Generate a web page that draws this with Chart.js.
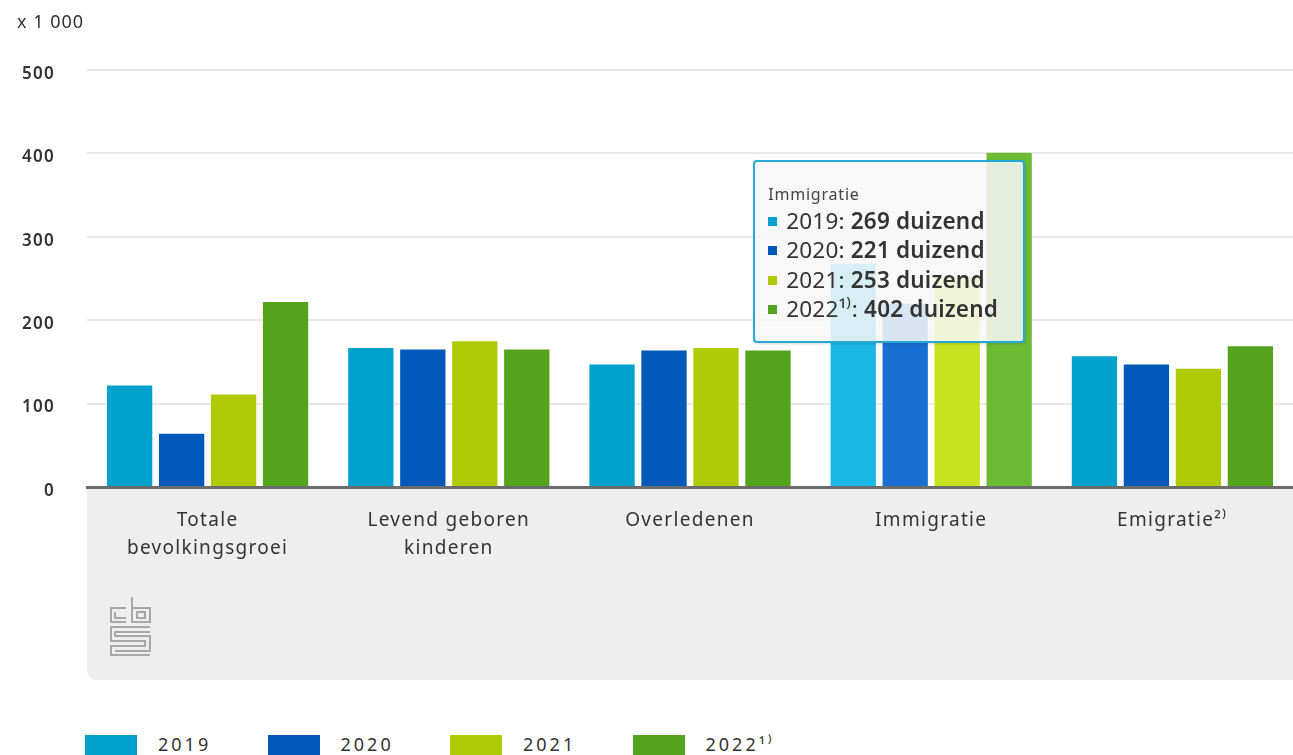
<!DOCTYPE html>
<html lang="nl">
<head>
<meta charset="utf-8">
<title>Bevolkingsgroei</title>
<script src="https://cdn.jsdelivr.net/npm/chart.js@4/dist/chart.umd.min.js"></script>
<style>
  body { margin: 0; background: #fff; font-family: "Noto Sans", sans-serif; color: #333; }
  #wrap { position: relative; width: 1293px; height: 755px; overflow: hidden; }
  #chart { position: absolute; left: 0; top: 0; }
  #unit { position: absolute; left: 17px; top: 9px; font-size: 18px; letter-spacing: 1px; color: #333; }
  #logo { position: absolute; left: 108px; top: 596px; }
  #legend { position: absolute; left: 85px; top: 735px; display: flex; }
  .lg-item { width: 182.5px; display: flex; align-items: flex-start; font-size: 18px; letter-spacing: 3px; color: #333; }
  .lg-box { width: 52px; height: 22px; margin-right: 21px; }
  .lg-text { line-height: 18px; margin-top: 0px; }
  #tip {
    position: absolute; display: none; box-sizing: border-box;
    background: rgba(247, 247, 247, 0.86); border: 2px solid #24a8d6; border-radius: 4px;
    box-shadow: 1px 1px 3px rgba(0,0,0,0.15);
    padding: 21px 14px 14px 13px; color: #333; white-space: nowrap;
  }
  #tip .t-title { font-size: 16px; letter-spacing: 0.8px; color: #444; margin-bottom: 1px; }
  #tip .t-row { font-size: 22.5px; line-height: 29.5px; letter-spacing: 0.2px; }
  #tip .t-sq { display: inline-block; width: 9px; height: 9px; margin-right: 9px; vertical-align: 3px; }
  #tip b { font-weight: 600; }
</style>
</head>
<body>
<div id="wrap">
  <canvas id="chart" width="1293" height="690"></canvas>
  <div id="unit">x 1 000</div>
  <svg id="logo" width="44" height="62" viewBox="0 0 44 62" fill="none" stroke="#a8a8a8" stroke-width="2">
    <polyline points="18,12 3,12 3,26 18,26" />
    <polyline points="7,16 7,22 18,22" />
    <polyline points="24,1 24,26 42,26 42,12 24,12" />
    <rect x="29" y="16" width="8" height="6" />
    <polyline points="42,31 3,31 3,45 37,45 37,50 3,50 3,59 42,59" />
    <polyline points="42,36 7,36 7,40 42,40 42,55 7,55" />
  </svg>
  <div id="tip"></div>
  <div id="legend"></div>
</div>
<script>
const categories = [
  ["Totale", "bevolkingsgroei"],
  ["Levend geboren", "kinderen"],
  "Overledenen",
  "Immigratie",
  "Emigratie\u00B2\u207E"
];
const years = ["2019", "2020", "2021", "2022\u00B9\u207E"];

// x 1 000
const values2019 = [123, 168, 148, 269, 158];
const values2020 = [65, 166, 165, 221, 148];
const values2021 = [112, 176, 168, 253, 143];
const values2022 = [223, 166, 165, 402, 170];

const yTicks = [0, 100, 200, 300, 400, 500];

const colors = ["#00a1cd", "#0058b8", "#afcb05", "#53a31d"];
const hoverColors = ["#1bb8e6", "#1a70d2", "#c7e21e", "#6cbb35"];

const activeIndex = 3; // Immigratie, tooltip open

const seriesValues = [values2019, values2020, values2021, values2022];

const CHART_LEFT = 87;
const CHART_BOTTOM = 487;
const CANVAS_H = 690;

// grey panel under the x axis + wider text like the original font
const panelPlugin = {
  id: "panel",
  beforeDraw(chart) {
    const { ctx, chartArea } = chart;
    ctx.letterSpacing = "1.3px";
    const x = chartArea.left, y = chartArea.bottom;
    const w = chart.width - x, h = 680 - y, r = 10;
    ctx.save();
    ctx.fillStyle = "#eeeeee";
    ctx.beginPath();
    ctx.moveTo(x, y);
    ctx.lineTo(x + w, y);
    ctx.lineTo(x + w, y + h);
    ctx.lineTo(x + r, y + h);
    ctx.quadraticCurveTo(x, y + h, x, y + h - r);
    ctx.closePath();
    ctx.fill();
    ctx.restore();
  }
};

function externalTooltip(context) {
  const tip = document.getElementById("tip");
  const tooltip = context.tooltip;
  if (tooltip.opacity === 0) {
    tip.style.display = "none";
    return;
  }
  let html = `<div class="t-title">${tooltip.title[0]}</div>`;
  tooltip.dataPoints.forEach((p) => {
    html += `<div class="t-row"><span class="t-sq" style="background:${colors[p.datasetIndex]}"></span>${p.dataset.label}: <b>${p.raw} duizend</b></div>`;
  });
  tip.innerHTML = html;
  const xs = context.chart.scales.x;
  const ys = context.chart.scales.y;
  const maxVal = Math.max(...tooltip.dataPoints.map((p) => p.raw));
  tip.style.display = "block";
  tip.style.left = (xs.getPixelForValue(tooltip.dataPoints[0].dataIndex) - 178) + "px";
  tip.style.top = (ys.getPixelForValue(maxVal) + 8) + "px";
  tip.style.width = "272px";
  tip.style.height = "183px";
}

const ctx = document.getElementById("chart").getContext("2d");
const chart = new Chart(ctx, {
  type: "bar",
  data: {
    labels: categories,
    datasets: years.map((y, i) => ({
      label: y,
      data: seriesValues[i],
      backgroundColor: colors[i],
      hoverBackgroundColor: hoverColors[i],
      borderColor: "rgba(255,255,255,0.5)",
      hoverBorderColor: "rgba(255,255,255,0.5)",
      borderWidth: 1,
      categoryPercentage: 0.862,
      barPercentage: 0.91
    }))
  },
  options: {
    responsive: false,
    animation: false,
    events: [],
    layout: { padding: { left: 0, right: 0, top: 70, bottom: 0 } },
    interaction: { mode: "index", intersect: false },
    scales: {
      x: {
        grid: { display: false, drawTicks: false },
        border: { display: true, color: "#6b6b6b", width: 3 },
        ticks: {
          padding: 19,
          color: "#333",
          font: { family: "Noto Sans", size: 19, lineHeight: 1.5 },
          maxRotation: 0,
          autoSkip: false
        },
        afterFit(scale) { scale.height = CANVAS_H - CHART_BOTTOM; }
      },
      y: {
        min: 0,
        max: 500,
        afterBuildTicks(scale) { scale.ticks = yTicks.map((v) => ({ value: v })); },
        grid: {
          drawTicks: false,
          lineWidth: 2,
          color: (c) => (c.tick && c.tick.value === 0 ? "rgba(0,0,0,0)" : "#e8e8e8")
        },
        border: { display: false },
        ticks: {
          padding: 32,
          labelOffset: 4,
          color: "#333",
          font: { family: "Noto Sans", size: 17, weight: "600" }
        },
        afterFit(scale) { scale.width = CHART_LEFT; }
      }
    },
    plugins: {
      legend: { display: false },
      tooltip: { enabled: false, external: externalTooltip, mode: "index", intersect: false }
    }
  },
  plugins: [panelPlugin]
});

// open the tooltip on Immigratie
const active = years.map((y, i) => ({ datasetIndex: i, index: activeIndex }));
chart.setActiveElements(active);
chart.tooltip.setActiveElements(active, { x: chart.scales.x.getPixelForValue(activeIndex), y: 200 });
chart.update();

// legend from datasets
const legend = document.getElementById("legend");
chart.data.datasets.forEach((ds) => {
  const item = document.createElement("div");
  item.className = "lg-item";
  item.innerHTML = `<span class="lg-box" style="background:${ds.backgroundColor}"></span><span class="lg-text">${ds.label}</span>`;
  legend.appendChild(item);
});
</script>
</body>
</html>
